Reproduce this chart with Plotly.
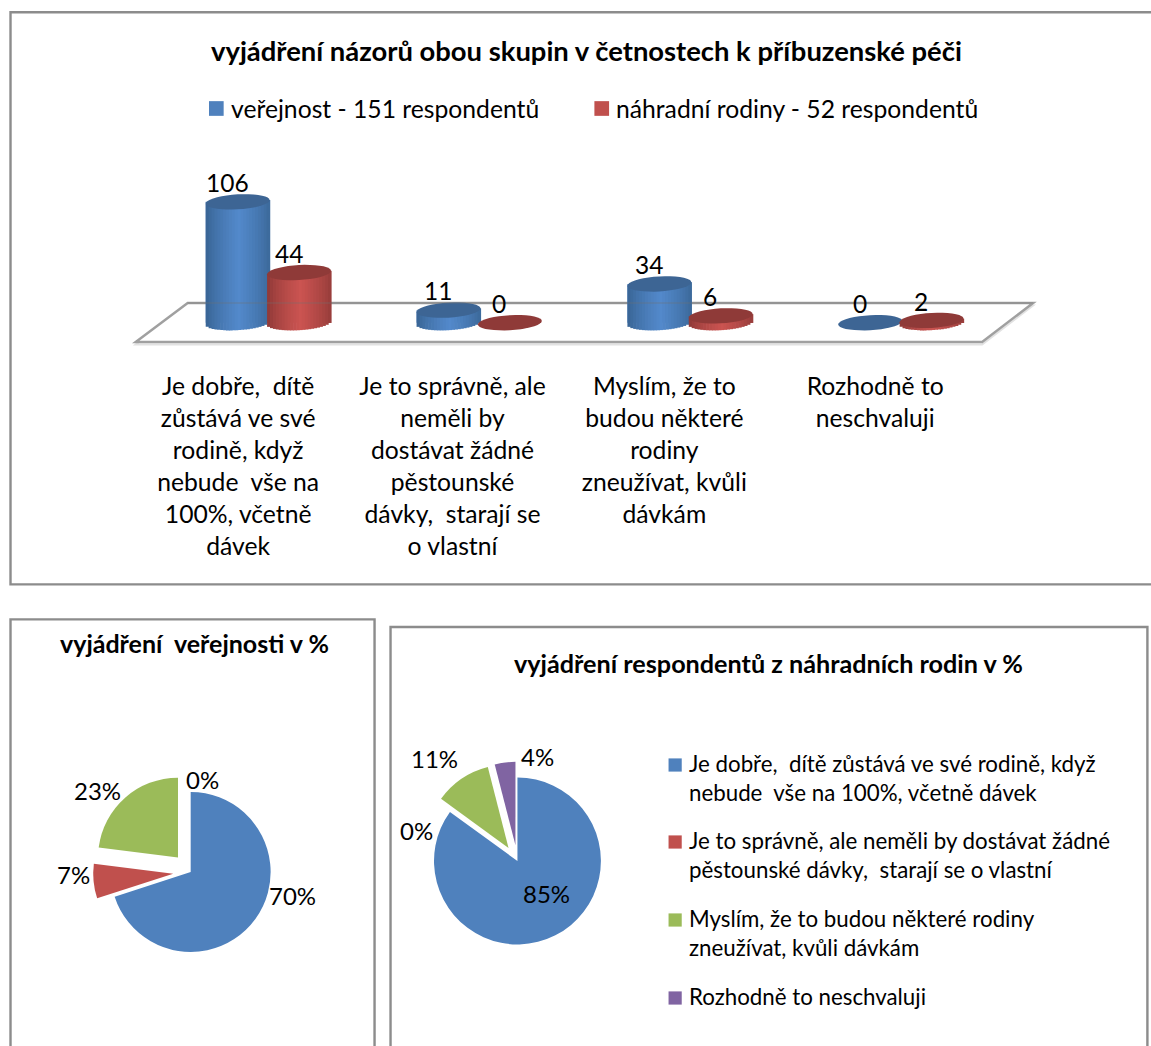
import math
import plotly.graph_objects as go

W, H = 1151, 1046
FONT = "Lato"

# ---------- data ----------
series_names = ["veřejnost - 151 respondentů", "náhradní rodiny - 52 respondentů"]
public_counts = [106, 11, 34, 0]
family_counts = [44, 0, 6, 2]
tick_labels = [
    "Je dobře,\u00a0 dítě<br>zůstává ve své<br>rodině, když<br>nebude\u00a0 vše na<br>100%, včetně<br>dávek",
    "Je to správně, ale<br>neměli by<br>dostávat žádné<br>pěstounské<br>dávky,\u00a0 starají se<br>o vlastní",
    "Myslím, že to<br>budou některé<br>rodiny<br>zneužívat, kvůli<br>dávkám",
    "Rozhodně to<br>neschvaluji",
]
pie_categories = [
    "Je dobře,\u00a0 dítě zůstává ve své rodině, když<br>nebude\u00a0 vše na 100%, včetně dávek",
    "Je to správně, ale neměli by dostávat žádné<br>pěstounské dávky,\u00a0 starají se o vlastní",
    "Myslím, že to budou některé rodiny<br>zneužívat, kvůli dávkám",
    "Rozhodně to neschvaluji",
]
public_percent = [70, 7, 23, 0]
family_percent = [85, 0, 11, 4]
public_pull = [0, 0.22, 0.24, 0]
family_pull = [0, 0, 0.19, 0.19]

title_main = "vyjádření názorů obou skupin v četnostech k příbuzenské péči"
title_left = "vyjádření\u00a0 veřejnosti v %"
title_right = "vyjádření respondentů z náhradních rodin v %"

BLUE, RED, GREEN, PURPLE = "#4F81BD", "#C0504D", "#9BBB59", "#8064A2"
pie_colors = [BLUE, RED, GREEN, PURPLE]

# ---------- layout geometry (pixels) ----------
def px(x): return (x - 4.2 * (1 - x / W)) / W
def py(y): return 1 - y / H

PLOT_L, PLOT_R, PLOT_T, PLOT_B = 162, 1006, 150, 369
Y0_PX = 322.7
UNIT = 1.14
BAR_W = 0.303
BAR_OFF = [-0.296, -0.005]   # left edge of each bar, relative to the group centre
XU = (PLOT_R - PLOT_L) / 4   # px per category
LABEL_SHIFT = [-30, -26.5, -25.5, -25.5]

y_range = [-(PLOT_B - Y0_PX) / UNIT, (Y0_PX - PLOT_T) / UNIT]
shapes, annotations = [], []

def add_text(x, y, text, size, bold=False, xanchor="center", yanchor="middle", align="center", xref="paper", yref="paper", **kw):
    annotations.append(dict(
        x=x, y=y, xref=xref, yref=yref, text=f"<b>{text}</b>" if bold else text,
        showarrow=False, xanchor=xanchor, yanchor=yanchor, align=align,
        font=dict(family=FONT, size=size, color="#000000"), borderpad=0, **kw))

def outline(pts, closed=False):
    return "M" + " L".join(f"{px(a):.5f},{py(b):.5f}" for a, b in pts) + (" Z" if closed else "")

# panel frames, all kept inside the page (they run off the bottom / right edge in the original)
FRAME = "#8C8C8C"
FRAMES = [
    [(W, 12.2), (9.7, 12.2), (9.7, 584.4), (W, 584.4)],
    [(9.7, H), (9.7, 619.4), (374, 619.4), (374, H)],
    [(390, H), (390, 627), (1147.4, 627), (1147.4, H)],
]
for pts in FRAMES:
    shapes.append(dict(type="path", xref="paper", yref="paper", path=outline(pts),
                       line=dict(color=FRAME, width=2.4), layer="below"))

# floor of the 3D column chart
FLOOR = [(187, 303), (1033, 303), (982, 342), (135, 342)]
shapes.append(dict(type="path", xref="paper", yref="paper", path=outline([(a, b + 2.5) for a, b in FLOOR], True),
                   line=dict(color="#E2E2E2", width=2), layer="below"))
shapes.append(dict(type="path", xref="paper", yref="paper", path=outline(FLOOR, True),
                   line=dict(color="#A0A0A0", width=2.5), fillcolor="#FFFFFF", layer="below"))

# ---------- cylinders: shading strips and caps derived from the values ----------
def mix(a, b, t):
    ca = [int(a[i:i + 2], 16) for i in (1, 3, 5)]
    cb = [int(b[i:i + 2], 16) for i in (1, 3, 5)]
    return "#" + "".join(f"{round(p + (q - p) * t):02X}" for p, q in zip(ca, cb))

RX = BAR_W / 2
RY = 7.5 / UNIT
TILT = 1.8 / UNIT
STRIPS = 22

def cylinder(i, off, v, edge, mid, cap):
    cx = i + off + RX
    if v > 0:
        for k in range(STRIPS):
            u0 = -1 + 2 * k / STRIPS
            u1 = -1 + 2 * (k + 1) / STRIPS + 0.02
            um = (u0 + u1) / 2
            t = max(0, 1 - abs(um - 0.05) / 1.05) ** 0.7
            bottom = -RY * math.sqrt(max(0, 1 - um * um)) + TILT * um
            shapes.append(dict(type="rect", xref="x", yref="y", x0=cx + u0 * RX, x1=cx + u1 * RX,
                               y0=bottom, y1=v + TILT * um, line=dict(width=0),
                               fillcolor=mix(edge, mid, t), layer="above"))
    pts = []
    for d in range(0, 360, 10):
        a = math.radians(d)
        pts.append((cx + RX * math.cos(a), v + RY * math.sin(a) + TILT * math.cos(a)))
    path = "M" + " L".join(f"{a:.4f},{b:.4f}" for a, b in pts) + " Z"
    shapes.append(dict(type="path", xref="x", yref="y", path=path, line=dict(width=0),
                       fillcolor=cap, layer="above"))

for i in range(len(tick_labels)):
    cylinder(i, BAR_OFF[0], public_counts[i], "#36618F", "#5389CB", "#3D6594")
    cylinder(i, BAR_OFF[1], family_counts[i], "#8A3735", "#CB5451", "#8F3A38")
    for off, vals in zip(BAR_OFF, (public_counts, family_counts)):
        add_text(i + off + RX, vals[i], str(vals[i]), 24.5, xref="x", yref="y", xshift=-10.5, yshift=19.3)

# back floor line faintly visible through the cylinders
shapes.append(dict(type="line", xref="paper", yref="paper", x0=px(187), x1=px(1033), y0=py(303), y1=py(303),
                   line=dict(color="rgba(110,110,110,0.25)", width=2), layer="above"))

fig = go.Figure()
for name, vals, color, off in zip(series_names, (public_counts, family_counts), (BLUE, RED), BAR_OFF):
    fig.add_trace(go.Bar(name=name, x=list(range(4)), y=vals, marker=dict(color=color, line=dict(width=0)),
                         width=BAR_W, offset=off, showlegend=False))

# ---------- pies ----------
def add_pie(name, vals, pull, cx, cy, r):
    R = r * (1 + max(pull))
    fig.add_trace(go.Pie(name=name, labels=[c.replace("<br>", " ") for c in pie_categories], values=vals, pull=pull,
                         sort=False, direction="clockwise", rotation=0, textinfo="none",
                         marker=dict(colors=pie_colors, line=dict(width=0)), showlegend=False,
                         domain=dict(x=[px(cx - R), px(cx + R)], y=[py(cy + R), py(cy - R)])))

add_pie(title_left, public_percent, public_pull, 190, 872, 80)
add_pie(title_right, family_percent, family_pull, 517, 861, 83.5)

for v, (x, y) in zip(public_percent, [(291.7, 895.7), (72.7, 874), (97, 790.7), (202, 779)]):
    add_text(px(x), py(y), f"{v}%", 24)
for v, (x, y) in zip(family_percent, [(546, 893), (416, 830.7), (434, 758), (536.7, 756.7)]):
    add_text(px(x), py(y), f"{v}%", 24)

# ---------- titles ----------
add_text(px(586), py(50.5), title_main, 27.4, bold=True)
add_text(px(194), py(643), title_left, 25, bold=True)
add_text(px(768), py(663), title_right, 25.2, bold=True)

# ---------- legends ----------
def swatch(x, yc, color, s):
    shapes.append(dict(type="rect", xref="paper", yref="paper", x0=px(x), x1=px(x + s),
                       y0=py(yc + s / 2), y1=py(yc - s / 2), line=dict(width=0), fillcolor=color, layer="above"))

for name, color, sx, tx in zip(series_names, (BLUE, RED), (208.3, 594), (229, 615)):
    swatch(sx, 108.5, color, 14.7)
    add_text(px(tx), py(109), name, 24.7, xanchor="left")

for label, color, yc in zip(pie_categories, pie_colors, (765, 842, 920, 998)):
    swatch(668.2, yc, color, 13.2)
    add_text(px(688), py(yc - 16), label, 22.3, xanchor="left", yanchor="top", align="left")

fig.update_layout(
    width=W, height=H, autosize=False,
    margin=dict(l=0, r=0, t=0, b=0, pad=0),
    paper_bgcolor="#FFFFFF", plot_bgcolor="rgba(0,0,0,0)",
    barmode="overlay", showlegend=False,
    font=dict(family=FONT, color="#000000"),
    xaxis=dict(domain=[px(PLOT_L), px(PLOT_R)], range=[-0.5, 3.5], tickmode="array",
               tickvals=[i + s / XU for i, s in enumerate(LABEL_SHIFT)], ticktext=tick_labels,
               tickangle=0, ticks="", showgrid=False, zeroline=False, showline=False,
               tickfont=dict(family=FONT, size=24.7, color="#000000")),
    yaxis=dict(domain=[py(PLOT_B), py(PLOT_T)], range=y_range, visible=False, showgrid=False, zeroline=False),
    shapes=shapes, annotations=annotations,
)

fig.write_html("out.html", config={"displayModeBar": False},
               post_script="document.body.style.margin='0';document.body.style.overflow='hidden';")
